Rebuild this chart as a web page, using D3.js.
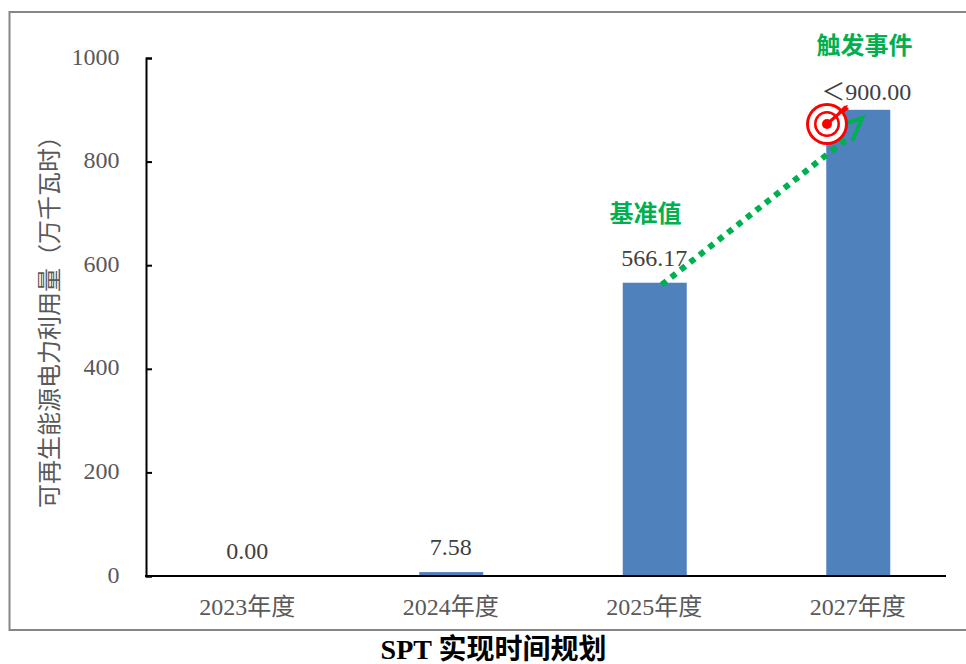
<!DOCTYPE html>
<html>
<head>
<meta charset="utf-8">
<script src="https://cdn.jsdelivr.net/npm/d3@7"></script>
<style>
html, body { margin: 0; padding: 0; background: #fff; }
svg { display: block; }
text { font-family: "Liberation Serif", "Noto Sans CJK SC", serif; }
</style>
</head>
<body>
<div id="chart"></div>
<script>
var categories = ["2023年度", "2024年度", "2025年度", "2027年度"];
var values = [0, 7.58, 566.17, 900];
var valueLabels = ["0.00", "7.58", "566.17", "＜900.00"];
var yTicks = [0, 200, 400, 600, 800, 1000];

var w = 966;
var h = 664;

var svg = d3.select("#chart")
	.append("svg")
	.attr("width", w)
	.attr("height", h);

var x = d3.scaleBand().domain(categories).range([146, 960]);
var y = d3.scaleLinear().domain([0, 1000]).range([576, 58]);
var barW = 64;

// outer frame, runs off the right edge
svg.append("rect")
	.attr("x", 9.5)
	.attr("y", 12)
	.attr("width", 970)
	.attr("height", 618)
	.attr("fill", "#fff")
	.attr("stroke", "#868686")
	.attr("stroke-width", 2);

svg.selectAll(".bar")
	.data(values)
	.enter()
	.append("rect")
	.attr("class", "bar")
	.attr("x", function(d, i) { return x(categories[i]) + x.bandwidth() / 2 - barW / 2; })
	.attr("y", function(d) { return y(d); })
	.attr("width", barW)
	.attr("height", function(d) { return y(0) - y(d); })
	.attr("fill", "#4f81bd");

var yAxis = d3.axisRight(y).tickValues(yTicks).tickSize(6).tickFormat("");
var yG = svg.append("g").attr("transform", "translate(146,0)").call(yAxis);
yG.selectAll("path, line").attr("stroke", "#000").attr("stroke-width", 2);

svg.selectAll(".ytick")
	.data(yTicks)
	.enter()
	.append("text")
	.attr("class", "ytick")
	.attr("x", 119.5)
	.attr("y", function(d) { return y(d) + 6.5; })
	.attr("text-anchor", "end")
	.attr("font-size", 24)
	.attr("fill", "#595959")
	.text(function(d) { return d; });

svg.append("line")
	.attr("x1", 145)
	.attr("x2", 946)
	.attr("y1", y(0))
	.attr("y2", y(0))
	.attr("stroke", "#000")
	.attr("stroke-width", 2);

svg.selectAll(".xlabel")
	.data(categories)
	.enter()
	.append("text")
	.attr("class", "xlabel")
	.attr("x", function(d) { return x(d) + x.bandwidth() / 2 - 0.5; })
	.attr("y", 615)
	.attr("text-anchor", "middle")
	.attr("font-size", 24)
	.attr("fill", "#595959")
	.text(function(d) { return d; });

// the last label was moved by hand in the original, so it sits lower and to the right
svg.selectAll(".vlabel")
	.data(values)
	.enter()
	.append("text")
	.attr("class", "vlabel")
	.attr("x", function(d, i) { return x(categories[i]) + x.bandwidth() / 2 + (i == 3 ? 8 : -0.5); })
	.attr("y", function(d, i) { return y(d) - (i == 3 ? 10 : 17); })
	.attr("text-anchor", "middle")
	.attr("font-size", 24)
	.attr("fill", "#404040")
	.text(function(d, i) { return valueLabels[i]; });

svg.append("text")
	.attr("transform", "translate(58,316) rotate(-90)")
	.attr("text-anchor", "middle")
	.attr("font-size", 24)
	.attr("fill", "#595959")
	.text("可再生能源电力利用量（万千瓦时）");

svg.append("text")
	.attr("x", 493.5)
	.attr("y", 659)
	.attr("text-anchor", "middle")
	.attr("font-size", 28)
	.attr("font-weight", "bold")
	.attr("fill", "#000")
	.text("SPT 实现时间规划");

svg.append("text")
	.attr("x", 645.5)
	.attr("y", 222)
	.attr("text-anchor", "middle")
	.attr("font-size", 24)
	.attr("font-weight", "bold")
	.attr("fill", "#00b050")
	.text("基准值");

svg.append("text")
	.attr("x", 864.5)
	.attr("y", 54)
	.attr("text-anchor", "middle")
	.attr("font-size", 24)
	.attr("font-weight", "bold")
	.attr("fill", "#00b050")
	.text("触发事件");

// dotted green arrow from the 2025 bar up to the 2027 bar
var cx25 = x("2025年度") + x.bandwidth() / 2;
var cx27 = x("2027年度") + x.bandwidth() / 2;

svg.append("line")
	.attr("x1", cx25 + 7)
	.attr("y1", y(values[2]) + 2)
	.attr("x2", cx27 - 10)
	.attr("y2", y(values[3]) + 28)
	.attr("stroke", "#00b050")
	.attr("stroke-width", 6)
	.attr("stroke-dasharray", "6 6");

svg.append("path")
	.attr("d", "M" + (cx27 - 11) + "," + (y(values[3]) + 13)
		+ "L" + (cx27 + 4) + "," + (y(values[3]) + 8)
		+ "L" + (cx27 - 6) + "," + (y(values[3]) + 31))
	.attr("fill", "none")
	.attr("stroke", "#00b050")
	.attr("stroke-width", 4);

// target icon
var tx = 827, ty = 124;
[[21, "#ff0000"], [18, "#fff"], [13, "#ff0000"], [10.5, "#fff"], [5, "#ff0000"]].forEach(function(r) {
	svg.append("circle")
		.attr("cx", tx)
		.attr("cy", ty)
		.attr("r", r[0])
		.attr("fill", r[1]);
});
svg.append("line")
	.attr("x1", tx)
	.attr("y1", ty)
	.attr("x2", tx + 15)
	.attr("y2", ty - 13)
	.attr("stroke", "#ff0000")
	.attr("stroke-width", 3);
svg.append("path")
	.attr("d", "M" + (tx + 11) + "," + (ty - 12) + "l6,-6l4,-1l-1,2l2,2l-6,4z")
	.attr("fill", "#ff0000");
</script>
</body>
</html>
